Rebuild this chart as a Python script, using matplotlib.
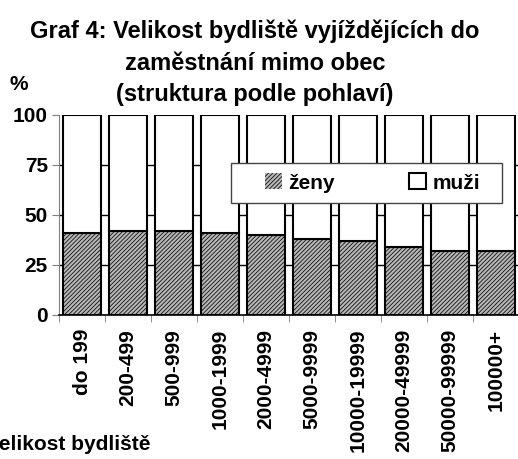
import matplotlib.pyplot as plt
import numpy as np
from matplotlib.patches import Rectangle

plt.rcParams['font.family'] = ['Liberation Sans', 'DejaVu Sans']
plt.rcParams['font.weight'] = 'bold'
plt.rcParams['hatch.linewidth'] = 0.6

kategorie = ['do 199', '200-499', '500-999', '1000-1999', '2000-4999',
             '5000-9999', '10000-19999', '20000-49999', '50000-99999', '100000+']
zeny = [41, 42, 42, 41, 40, 38, 37, 34, 32, 32]
muzi = [100 - z for z in zeny]

W, H = 518, 459
fig = plt.figure(figsize=(W / 100, H / 100), dpi=100)
ax = fig.add_axes([59 / W, 144 / H, 460 / W, 200 / H])

x = np.arange(len(kategorie))
sirka = 0.84

# mrizka - je videt jen v mezerach mezi sloupci
for g in [25, 50, 75]:
    ax.axhline(g, color='black', lw=1, zorder=0)

# zeny - srafovane (srafa zvlast, obrys zvlast)
ax.bar(x, zeny, sirka, color='#b8b8b8', edgecolor='#111111', hatch='////////',
       lw=0, zorder=2, label='ženy')
ax.bar(x, zeny, sirka, fill=False, edgecolor='black', lw=1.5, zorder=3)
ax.bar(x, muzi, sirka, bottom=zeny, color='white', edgecolor='black', lw=1.5,
       zorder=3, label='muži')

ax.set_xlim(-0.5, len(kategorie) - 0.5)
ax.set_ylim(0, 100)
ax.set_yticks([0, 25, 50, 75, 100])
ax.tick_params(axis='y', labelsize=15, length=5, color='gray', pad=3)

ax.set_xticks(x)
ax.set_xticklabels(kategorie, rotation=90, fontsize=15, fontweight='bold')
ax.set_xticks(np.arange(len(kategorie)) - 0.5, minor=True)
ax.tick_params(axis='x', which='major', length=0, pad=10)
ax.tick_params(axis='x', which='minor', length=5, color='gray')

for s in ['top', 'right']:
    ax.spines[s].set_visible(False)
ax.spines['left'].set_color('gray')
ax.spines['bottom'].set_color('black')
ax.spines['bottom'].set_linewidth(1.2)

# ramecek legendy
ax.add_patch(Rectangle(((231 - 59) / 460, (315 - 203) / 200), (502 - 231) / 460, 40 / 200,
                       transform=ax.transAxes, facecolor='white', edgecolor='#444444',
                       lw=1, zorder=5, clip_on=False))
leg = ax.legend(loc='center left', bbox_to_anchor=((265 - 59) / 460, (315 - 183) / 200),
                ncol=2, frameon=False, fontsize=15, handlelength=0.8,
                handleheight=0.8, borderpad=0, borderaxespad=0,
                handletextpad=0.3, columnspacing=3.6)
leg.set_zorder(6)

fig.text(255 / W, 1 - 31 / H, 'Graf 4: Velikost bydliště vyjíždějících do',
         ha='center', va='center', fontsize=17, fontweight='bold')
fig.text(255 / W, 1 - 63 / H, 'zaměstnání mimo obec',
         ha='center', va='center', fontsize=17, fontweight='bold')
fig.text(255 / W, 1 - 94 / H, '(struktura podle pohlaví)',
         ha='center', va='center', fontsize=17, fontweight='bold')
fig.text(19 / W, 1 - 85 / H, '%', ha='center', va='center', fontsize=15,
         fontweight='bold')
# v predloze je popis osy x zleva oriznuty
fig.text(150 / W, 1 - 445 / H, 'Velikost bydliště', ha='right', va='center',
         fontsize=15, fontweight='bold')

fig.savefig('out.png', dpi=100)
